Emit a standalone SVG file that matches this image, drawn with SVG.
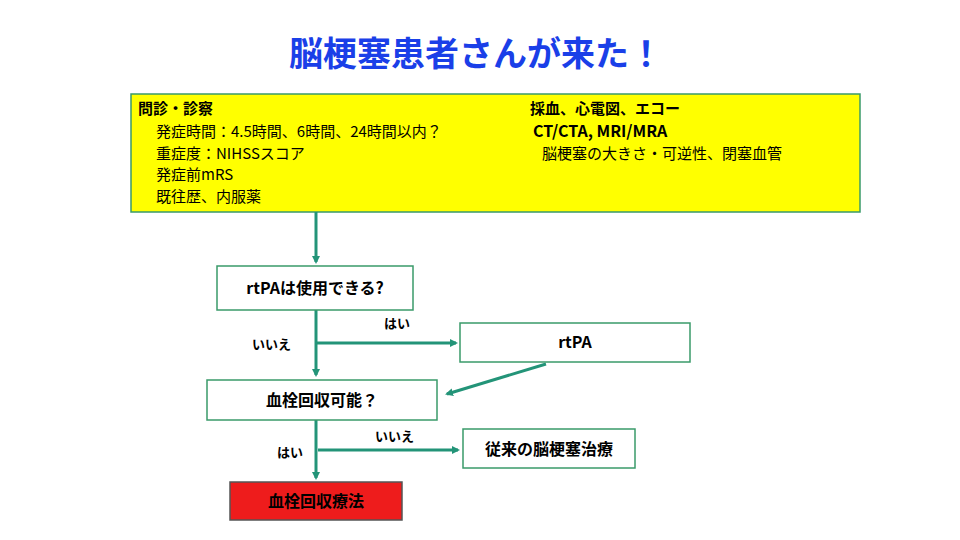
<svg xmlns="http://www.w3.org/2000/svg" width="960" height="540" viewBox="0 0 960 540">
<defs>
<marker id="ah" markerWidth="8" markerHeight="8" refX="6" refY="4" orient="auto" markerUnits="userSpaceOnUse"><path d="M0,0 L8,4 L0,8 z" fill="#239478"/></marker>
<style>
text{font-family:"Noto Sans CJK JP","Liberation Sans",sans-serif;fill:#000}
.b{font-weight:bold}
.box{fill:#fff;stroke:#3a9a6a;stroke-width:1.5}
.c{stroke:#239478;stroke-width:3;fill:none}
</style>
</defs>
<rect width="960" height="540" fill="#fff"/>
<text x="476" y="66" text-anchor="middle" class="b" font-size="34" style="fill:#1a3fe8">脳梗塞患者さんが来た！</text>
<g id="info">
<rect x="131" y="94" width="729" height="118" fill="#ffff00" stroke="#3a9a6a" stroke-width="1.5"/>
<text x="138" y="114" font-size="15" class="b">問診・診察</text>
<text x="156" y="137" font-size="15">発症時間：4.5時間、6時間、24時間以内？</text>
<text x="156" y="159" font-size="15">重症度：NIHSSスコア</text>
<text x="156" y="180" font-size="15">発症前mRS</text>
<text x="156" y="202" font-size="15">既往歴、内服薬</text>
<text x="530" y="114" font-size="15" class="b">採血、心電図、エコー</text>
<text x="533" y="137" font-size="16" class="b">CT/CTA, MRI/MRA</text>
<text x="542" y="159" font-size="15">脳梗塞の大きさ・可逆性、閉塞血管</text>
</g>
<g id="connectors">
<path class="c" d="M316,212 V262" marker-end="url(#ah)"/>
<path class="c" d="M316,310 V375" marker-end="url(#ah)"/>
<path class="c" d="M316,343 H456" marker-end="url(#ah)"/>
<path class="c" d="M546,364 L447,394" marker-end="url(#ah)"/>
<path class="c" d="M316,420 V478" marker-end="url(#ah)"/>
<path class="c" d="M318,450 H458" marker-end="url(#ah)"/>
<text x="384" y="328" font-size="13" class="b">はい</text>
<text x="252" y="349" font-size="13" class="b">いいえ</text>
<text x="375" y="441" font-size="13" class="b">いいえ</text>
<text x="277" y="457" font-size="13" class="b">はい</text>
</g>
<g id="q1"><rect class="box" x="217" y="266" width="196" height="44"/><text x="315" y="294" text-anchor="middle" font-size="16" class="b">rtPAは使用できる?</text></g>
<g id="rtpa"><rect class="box" x="460" y="323" width="230" height="39"/><text x="575" y="348" text-anchor="middle" font-size="16" class="b">rtPA</text></g>
<g id="q2"><rect class="box" x="207" y="380" width="230" height="40"/><text x="322" y="406" text-anchor="middle" font-size="16" class="b">血栓回収可能？</text></g>
<g id="conv"><rect class="box" x="463" y="429" width="172" height="39"/><text x="549" y="455" text-anchor="middle" font-size="16" class="b">従来の脳梗塞治療</text></g>
<g id="evt"><rect x="230" y="482" width="172" height="38" fill="#ee1c1c" stroke="#555" stroke-width="1.5"/><text x="316" y="507" text-anchor="middle" font-size="16" class="b">血栓回収療法</text></g>
</svg>
